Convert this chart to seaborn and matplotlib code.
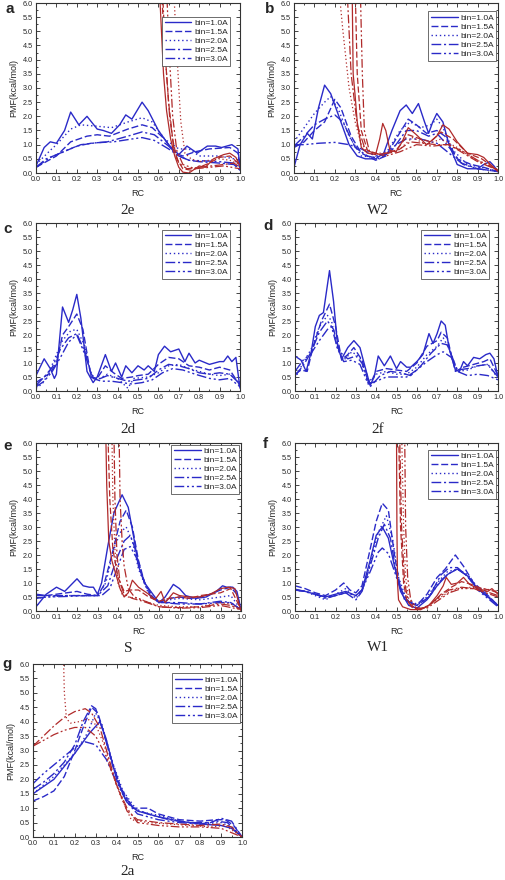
import matplotlib
matplotlib.use("Agg")
import matplotlib.pyplot as plt
from matplotlib.ticker import MultipleLocator
import seaborn as sns

# Labels and styles
BIN_LABELS = ["bin=1.0A", "bin=1.5A", "bin=2.0A", "bin=2.5A", "bin=3.0A"]
CAPTIONS = ["2e", "W2", "2d", "2f", "S", "W1", "2a"]
LETTERS = ["a", "b", "c", "d", "e", "f", "g"]
BLUE = "#2a2ac8"
RED = "#b02a2a"
STYLES = ["-", (0, (5, 2)), (0, (1, 2)), (0, (7, 2, 1.5, 2)), (0, (7, 2, 1.5, 2, 1.5, 2))]

# Panel a (2e)
a_blue = [
    [(0, 0.25), (0.04, 0.9), (0.07, 1.1), (0.1, 1.05), (0.14, 1.5), (0.17, 2.15), (0.21, 1.7), (0.25, 2.0),
     (0.3, 1.55), (0.33, 1.5), (0.37, 1.4), (0.41, 1.7), (0.44, 2.05), (0.47, 1.9), (0.52, 2.5), (0.55, 2.2),
     (0.6, 1.5), (0.65, 1.0), (0.7, 0.65), (0.74, 0.95), (0.79, 0.7), (0.84, 0.95), (0.88, 0.95), (0.91, 0.9),
     (0.96, 1.0), (0.99, 0.85), (1.0, 0.2)],
    [(0, 0.2), (0.1, 0.6), (0.17, 1.1), (0.25, 1.3), (0.3, 1.35), (0.36, 1.3), (0.45, 1.55), (0.52, 1.7),
     (0.57, 1.6), (0.63, 1.2), (0.68, 0.7), (0.72, 0.6), (0.78, 0.75), (0.85, 0.85), (0.95, 0.9), (0.99, 0.7),
     (1.0, 0.15)],
    [(0, 0.3), (0.07, 0.8), (0.1, 1.0), (0.17, 1.55), (0.22, 1.7), (0.3, 1.65), (0.37, 1.6), (0.45, 1.8),
     (0.52, 1.95), (0.57, 1.8), (0.63, 1.2), (0.7, 0.85), (0.75, 0.85), (0.8, 0.6), (0.9, 0.6), (0.97, 0.5),
     (1.0, 0.2)],
    [(0, 0.2), (0.05, 0.5), (0.12, 0.7), (0.2, 0.95), (0.27, 1.05), (0.35, 1.1), (0.45, 1.3), (0.52, 1.45),
     (0.58, 1.35), (0.65, 0.95), (0.7, 0.6), (0.75, 0.45), (0.8, 0.4), (0.9, 0.35), (0.97, 0.3), (1.0, 0.1)],
    [(0, 0.2), (0.07, 0.55), (0.15, 0.8), (0.22, 1.0), (0.3, 1.07), (0.38, 1.1), (0.47, 1.2), (0.52, 1.25),
     (0.58, 1.15), (0.65, 0.85), (0.7, 0.6), (0.75, 0.45), (0.85, 0.42), (0.9, 0.4), (0.97, 0.35), (1.0, 0.1)],
]
a_red = [
    [(0.605, 6.5), (0.615, 5.0), (0.625, 3.5), (0.64, 2.2), (0.66, 1.2), (0.68, 0.6), (0.7, 0.2), (0.72, 0.03),
     (0.75, 0.0), (0.78, 0.15), (0.8, 0.25), (0.83, 0.2), (0.87, 0.5), (0.92, 0.65), (0.95, 0.7), (0.98, 0.55),
     (1.0, 0.25)],
    [(0.615, 6.5), (0.63, 4.5), (0.65, 2.5), (0.67, 1.2), (0.69, 0.5), (0.72, 0.15), (0.76, 0.1), (0.8, 0.2),
     (0.85, 0.35), (0.9, 0.55), (0.95, 0.6), (1.0, 0.3)],
    [(0.675, 6.5), (0.685, 5.0), (0.7, 3.0), (0.71, 1.8), (0.73, 0.7), (0.76, 0.5), (0.8, 0.4), (0.85, 0.45),
     (0.9, 0.5), (0.95, 0.45), (1.0, 0.3)],
    [(0.62, 6.5), (0.635, 4.0), (0.655, 2.0), (0.675, 0.9), (0.7, 0.35), (0.74, 0.15), (0.8, 0.2), (0.86, 0.25),
     (0.92, 0.3), (0.97, 0.35), (1.0, 0.2)],
    [(0.64, 6.5), (0.655, 4.0), (0.67, 2.0), (0.69, 0.8), (0.72, 0.3), (0.78, 0.15), (0.85, 0.2), (0.92, 0.25),
     (1.0, 0.15)],
]

# Panel b (W2)
b_blue = [
    [(0, 0.2), (0.03, 1.0), (0.065, 1.4), (0.09, 1.2), (0.12, 2.3), (0.15, 3.1), (0.18, 2.8), (0.22, 2.0),
     (0.27, 1.0), (0.31, 0.6), (0.35, 0.5), (0.4, 0.5), (0.44, 0.7), (0.48, 1.5), (0.52, 2.2), (0.55, 2.4),
     (0.58, 2.1), (0.61, 2.45), (0.64, 1.8), (0.66, 1.4), (0.68, 1.8), (0.7, 2.1), (0.73, 1.8), (0.76, 1.0),
     (0.8, 0.3), (0.85, 0.15), (0.9, 0.15), (0.93, 0.3), (0.96, 0.4), (0.98, 0.25), (1.0, 0.05)],
    [(0, 0.9), (0.05, 1.1), (0.1, 1.5), (0.15, 1.8), (0.2, 2.6), (0.23, 2.3), (0.28, 1.3), (0.33, 0.7),
     (0.4, 0.45), (0.45, 0.6), (0.5, 1.2), (0.56, 1.9), (0.6, 1.7), (0.65, 1.4), (0.7, 1.5), (0.74, 1.3),
     (0.8, 0.5), (0.87, 0.3), (0.93, 0.2), (1.0, 0.05)],
    [(0, 1.1), (0.05, 1.6), (0.1, 2.1), (0.15, 2.5), (0.18, 2.7), (0.22, 2.2), (0.27, 1.3), (0.33, 0.6),
     (0.4, 0.55), (0.46, 0.8), (0.52, 1.5), (0.57, 1.8), (0.62, 1.6), (0.67, 1.7), (0.7, 1.9), (0.73, 1.6),
     (0.78, 0.8), (0.85, 0.3), (0.92, 0.2), (1.0, 0.05)],
    [(0, 0.95), (0.05, 1.3), (0.1, 1.7), (0.15, 1.9), (0.2, 2.05), (0.24, 1.8), (0.3, 0.9), (0.36, 0.6),
     (0.42, 0.5), (0.48, 0.8), (0.55, 1.5), (0.6, 1.5), (0.66, 1.3), (0.7, 1.4), (0.75, 1.0), (0.82, 0.35),
     (0.9, 0.15), (1.0, 0.05)],
    [(0, 1.0), (0.05, 1.0), (0.12, 1.05), (0.2, 1.08), (0.27, 1.0), (0.33, 0.85), (0.4, 0.6), (0.45, 0.65),
     (0.5, 1.0), (0.55, 1.2), (0.62, 1.2), (0.7, 1.05), (0.76, 0.7), (0.83, 0.3), (0.9, 0.15), (1.0, 0.05)],
]
b_red = [
    [(0.285, 6.5), (0.29, 3.5), (0.3, 2.7), (0.31, 1.8), (0.33, 0.9), (0.36, 0.7), (0.4, 0.65), (0.42, 1.2),
     (0.435, 1.75), (0.45, 1.5), (0.47, 0.8), (0.5, 0.75), (0.53, 1.1), (0.56, 1.6), (0.6, 1.35), (0.65, 1.0),
     (0.7, 1.3), (0.73, 1.7), (0.76, 1.55), (0.8, 1.1), (0.85, 0.7), (0.9, 0.65), (0.93, 0.55), (0.97, 0.25),
     (1.0, 0.05)],
    [(0.3, 6.5), (0.31, 3.5), (0.33, 1.5), (0.36, 0.8), (0.42, 0.65), (0.5, 0.8), (0.56, 1.35), (0.62, 1.2),
     (0.67, 1.1), (0.72, 1.45), (0.78, 1.2), (0.85, 0.7), (0.92, 0.5), (1.0, 0.1)],
    [(0.22, 6.5), (0.24, 5.0), (0.27, 3.0), (0.3, 1.8), (0.33, 1.0), (0.38, 0.7), (0.45, 0.7), (0.52, 0.85),
     (0.58, 1.25), (0.65, 1.0), (0.72, 1.2), (0.8, 0.9), (0.88, 0.5), (0.95, 0.3), (1.0, 0.1)],
    [(0.26, 6.5), (0.28, 3.5), (0.31, 1.7), (0.35, 0.8), (0.42, 0.65), (0.5, 0.75), (0.57, 1.1), (0.63, 1.05),
     (0.7, 1.0), (0.76, 1.0), (0.83, 0.7), (0.9, 0.4), (1.0, 0.1)],
    [(0.325, 6.5), (0.335, 3.5), (0.345, 1.5), (0.37, 0.75), (0.45, 0.6), (0.52, 0.75), (0.6, 1.0),
     (0.68, 0.95), (0.75, 1.0), (0.82, 0.8), (0.9, 0.45), (1.0, 0.1)],
]

# Panel c (2d)
c_blue = [
    [(0, 0.55), (0.04, 1.15), (0.07, 0.8), (0.09, 0.45), (0.1, 0.6), (0.13, 3.0), (0.16, 2.45), (0.18, 2.9),
     (0.2, 3.45), (0.22, 2.6), (0.25, 0.7), (0.28, 0.3), (0.3, 0.5), (0.34, 1.3), (0.37, 0.7), (0.39, 1.0),
     (0.42, 0.5), (0.44, 0.9), (0.47, 0.65), (0.5, 0.9), (0.53, 0.75), (0.55, 0.9), (0.58, 0.7), (0.6, 1.3),
     (0.63, 1.6), (0.66, 1.4), (0.7, 1.5), (0.73, 1.05), (0.75, 1.35), (0.78, 1.0), (0.8, 1.1), (0.85, 0.95),
     (0.9, 1.05), (0.92, 1.05), (0.94, 1.25), (0.96, 1.05), (0.98, 1.2), (1.0, 0.1)],
    [(0, 0.3), (0.04, 0.5), (0.07, 0.65), (0.1, 1.0), (0.13, 2.0), (0.16, 2.3), (0.2, 2.75), (0.23, 2.2),
     (0.27, 0.5), (0.3, 0.45), (0.34, 0.9), (0.38, 0.65), (0.42, 0.45), (0.47, 0.5), (0.5, 0.55), (0.55, 0.6),
     (0.6, 0.95), (0.65, 1.2), (0.7, 1.15), (0.75, 0.9), (0.8, 0.85), (0.85, 0.75), (0.9, 0.85), (0.95, 0.75),
     (1.0, 0.2)],
    [(0, 0.1), (0.03, 0.25), (0.06, 0.6), (0.1, 1.3), (0.13, 1.8), (0.17, 2.15), (0.2, 2.2), (0.24, 1.6),
     (0.27, 0.5), (0.3, 0.4), (0.35, 0.6), (0.4, 0.45), (0.45, 0.1), (0.48, 0.45), (0.55, 0.5), (0.6, 0.65),
     (0.65, 0.9), (0.7, 0.95), (0.75, 0.8), (0.8, 0.7), (0.85, 0.6), (0.9, 0.55), (0.95, 0.6), (1.0, 0.3)],
    [(0, 0.2), (0.04, 0.5), (0.08, 0.85), (0.12, 1.5), (0.16, 1.9), (0.2, 2.05), (0.24, 1.4), (0.27, 0.6),
     (0.3, 0.4), (0.35, 0.55), (0.4, 0.45), (0.45, 0.35), (0.5, 0.4), (0.55, 0.45), (0.6, 0.75), (0.65, 0.95),
     (0.7, 0.9), (0.75, 0.8), (0.8, 0.65), (0.85, 0.6), (0.9, 0.65), (0.95, 0.6), (1.0, 0.25)],
    [(0, 0.15), (0.04, 0.35), (0.08, 0.7), (0.12, 1.2), (0.16, 1.75), (0.2, 2.0), (0.24, 1.3), (0.28, 0.45),
     (0.32, 0.35), (0.37, 0.35), (0.42, 0.3), (0.47, 0.25), (0.52, 0.3), (0.57, 0.4), (0.62, 0.65),
     (0.67, 0.8), (0.72, 0.75), (0.78, 0.6), (0.85, 0.45), (0.9, 0.4), (0.95, 0.45), (1.0, 0.15)],
]

# Panel d (2f)
d_blue = [
    [(0, 1.25), (0.03, 1.1), (0.055, 0.7), (0.08, 1.4), (0.1, 2.3), (0.12, 2.7), (0.14, 2.8), (0.17, 4.3),
     (0.19, 3.2), (0.21, 1.6), (0.23, 1.15), (0.26, 1.55), (0.29, 1.8), (0.32, 1.55), (0.34, 1.0), (0.37, 0.2),
     (0.39, 0.5), (0.41, 1.25), (0.44, 0.9), (0.47, 1.25), (0.5, 0.8), (0.52, 1.05), (0.55, 0.85),
     (0.57, 0.85), (0.6, 1.05), (0.63, 1.3), (0.66, 2.05), (0.68, 1.7), (0.7, 2.05), (0.72, 2.5), (0.74, 2.35),
     (0.76, 1.5), (0.79, 0.75), (0.81, 0.7), (0.83, 1.05), (0.85, 0.9), (0.88, 1.2), (0.91, 1.15), (0.94, 1.3),
     (0.96, 1.35), (0.98, 1.15), (1.0, 0.5)],
    [(0, 0.6), (0.03, 0.75), (0.06, 0.7), (0.09, 1.6), (0.13, 2.5), (0.17, 3.1), (0.2, 2.3), (0.23, 1.1),
     (0.26, 1.3), (0.29, 1.55), (0.33, 1.1), (0.37, 0.25), (0.4, 0.7), (0.45, 0.8), (0.5, 0.75), (0.55, 0.7),
     (0.6, 1.0), (0.65, 1.6), (0.7, 1.8), (0.72, 2.1), (0.75, 1.9), (0.79, 0.7), (0.83, 0.85), (0.88, 0.95),
     (0.93, 1.05), (0.96, 1.15), (1.0, 0.55)],
    [(0, 0.45), (0.04, 1.0), (0.08, 1.5), (0.12, 2.3), (0.16, 2.7), (0.18, 2.5), (0.21, 1.5), (0.24, 1.1),
     (0.28, 1.4), (0.32, 1.2), (0.36, 0.3), (0.4, 0.6), (0.45, 0.7), (0.5, 0.6), (0.55, 0.6), (0.6, 0.85),
     (0.65, 1.3), (0.7, 1.6), (0.73, 1.9), (0.76, 1.5), (0.8, 0.7), (0.85, 0.75), (0.9, 0.9), (0.95, 0.95),
     (1.0, 0.45)],
    [(0, 0.55), (0.04, 0.9), (0.08, 1.4), (0.12, 2.1), (0.16, 2.5), (0.19, 2.2), (0.22, 1.4), (0.26, 1.15),
     (0.3, 1.25), (0.33, 1.0), (0.37, 0.15), (0.42, 0.55), (0.47, 0.7), (0.52, 0.65), (0.57, 0.55), (0.62, 0.9),
     (0.67, 1.35), (0.72, 1.7), (0.75, 1.65), (0.8, 0.75), (0.85, 0.8), (0.9, 0.9), (0.95, 0.95), (1.0, 0.5)],
    [(0, 0.7), (0.04, 1.1), (0.08, 1.35), (0.12, 1.8), (0.16, 2.2), (0.18, 2.3), (0.21, 1.5), (0.24, 1.05),
     (0.28, 1.1), (0.32, 0.95), (0.36, 0.25), (0.4, 0.35), (0.45, 0.5), (0.5, 0.5), (0.55, 0.5), (0.6, 0.75),
     (0.65, 1.05), (0.7, 1.3), (0.73, 1.4), (0.77, 1.2), (0.8, 0.7), (0.85, 0.55), (0.9, 0.6), (0.95, 0.55),
     (1.0, 0.4)],
]

# Panel e (S)
e_blue = [
    [(0, 0.15), (0.05, 0.6), (0.1, 0.85), (0.14, 0.7), (0.2, 1.15), (0.23, 0.9), (0.26, 0.85), (0.28, 0.85),
     (0.3, 0.6), (0.32, 1.0), (0.35, 2.3), (0.38, 3.5), (0.42, 4.15), (0.45, 3.7), (0.48, 2.5), (0.5, 1.6),
     (0.53, 1.0), (0.56, 0.7), (0.6, 0.3), (0.63, 0.5), (0.67, 0.95), (0.7, 0.8), (0.73, 0.55), (0.78, 0.45),
     (0.83, 0.5), (0.88, 0.7), (0.91, 0.9), (0.93, 0.85), (0.96, 0.85), (0.98, 0.7), (1.0, 0.05)],
    [(0, 0.55), (0.05, 0.55), (0.1, 0.6), (0.15, 0.65), (0.2, 0.7), (0.25, 0.6), (0.3, 0.55), (0.33, 0.9),
     (0.37, 2.0), (0.41, 3.2), (0.44, 3.6), (0.47, 3.0), (0.5, 1.8), (0.53, 1.0), (0.57, 0.5), (0.6, 0.3),
     (0.65, 0.45), (0.7, 0.5), (0.75, 0.45), (0.8, 0.5), (0.85, 0.6), (0.9, 0.75), (0.95, 0.85), (0.98, 0.6),
     (1.0, 0.05)],
    [(0, 0.45), (0.05, 0.5), (0.15, 0.55), (0.25, 0.55), (0.3, 0.55), (0.34, 1.0), (0.38, 2.2), (0.41, 2.8),
     (0.44, 3.0), (0.47, 2.5), (0.5, 1.5), (0.55, 0.6), (0.6, 0.3), (0.65, 0.4), (0.7, 0.45), (0.8, 0.4),
     (0.9, 0.5), (0.95, 0.55), (1.0, 0.05)],
    [(0, 0.6), (0.05, 0.55), (0.15, 0.55), (0.25, 0.55), (0.3, 0.55), (0.35, 0.9), (0.39, 1.8), (0.43, 2.5),
     (0.46, 2.7), (0.48, 2.3), (0.52, 1.2), (0.56, 0.5), (0.6, 0.3), (0.65, 0.3), (0.7, 0.3), (0.8, 0.25),
     (0.9, 0.35), (0.95, 0.3), (1.0, 0.05)],
    [(0, 0.45), (0.05, 0.5), (0.15, 0.52), (0.25, 0.55), (0.32, 0.55), (0.36, 0.8), (0.4, 1.6), (0.43, 2.2),
     (0.46, 2.3), (0.49, 1.9), (0.53, 1.0), (0.57, 0.45), (0.62, 0.3), (0.7, 0.25), (0.8, 0.25), (0.9, 0.3),
     (0.95, 0.3), (1.0, 0.05)],
]
e_red = [
    [(0.34, 6.5), (0.345, 4.5), (0.355, 2.5), (0.37, 1.8), (0.39, 1.3), (0.41, 0.8), (0.43, 0.5), (0.45, 0.65),
     (0.47, 1.1), (0.5, 0.85), (0.55, 0.6), (0.58, 0.4), (0.61, 0.7), (0.63, 0.3), (0.67, 0.65), (0.7, 0.55),
     (0.75, 0.5), (0.8, 0.5), (0.85, 0.6), (0.9, 0.8), (0.94, 0.85), (0.97, 0.8), (1.0, 0.0)],
    [(0.35, 6.5), (0.36, 4.0), (0.375, 2.2), (0.4, 1.2), (0.43, 0.7), (0.46, 0.75), (0.5, 0.75), (0.55, 0.5),
     (0.6, 0.35), (0.65, 0.45), (0.7, 0.5), (0.75, 0.45), (0.8, 0.55), (0.85, 0.6), (0.9, 0.65), (0.95, 0.8),
     (1.0, 0.05)],
    [(0.37, 6.5), (0.375, 4.0), (0.385, 2.2), (0.4, 1.0), (0.42, 0.6), (0.45, 0.5), (0.5, 0.45), (0.55, 0.3),
     (0.6, 0.2), (0.7, 0.15), (0.8, 0.15), (0.9, 0.3), (0.95, 0.25), (1.0, 0.05)],
    [(0.38, 6.5), (0.385, 4.0), (0.395, 2.0), (0.41, 1.0), (0.43, 0.6), (0.47, 0.45), (0.52, 0.35), (0.6, 0.15),
     (0.7, 0.12), (0.8, 0.15), (0.9, 0.25), (0.95, 0.2), (1.0, 0.05)],
    [(0.405, 6.5), (0.41, 4.0), (0.42, 2.5), (0.43, 1.6), (0.45, 0.8), (0.48, 0.5), (0.55, 0.3), (0.6, 0.15),
     (0.7, 0.1), (0.8, 0.12), (0.9, 0.2), (1.0, 0.05)],
]

# Panel f (W1)
f_blue = [
    [(0, 0.78), (0.05, 0.7), (0.1, 0.6), (0.15, 0.5), (0.2, 0.6), (0.25, 0.7), (0.3, 0.55), (0.33, 0.75),
     (0.37, 1.8), (0.4, 2.7), (0.43, 3.0), (0.46, 2.6), (0.49, 1.6), (0.52, 0.7), (0.56, 0.2), (0.6, 0.1),
     (0.65, 0.4), (0.7, 0.9), (0.75, 1.3), (0.8, 1.5), (0.85, 1.25), (0.9, 0.8), (0.95, 0.5), (1.0, 0.2)],
    [(0, 0.9), (0.05, 0.8), (0.1, 0.65), (0.15, 0.55), (0.2, 0.75), (0.24, 1.0), (0.27, 0.75), (0.3, 0.65),
     (0.33, 0.9), (0.37, 2.2), (0.4, 3.2), (0.43, 3.85), (0.46, 3.6), (0.49, 2.0), (0.52, 0.8), (0.56, 0.3),
     (0.6, 0.2), (0.65, 0.6), (0.7, 1.2), (0.74, 1.5), (0.79, 2.0), (0.83, 1.6), (0.88, 1.0), (0.93, 0.7),
     (1.0, 0.2)],
    [(0, 0.75), (0.05, 0.7), (0.1, 0.55), (0.15, 0.4), (0.2, 0.6), (0.25, 0.8), (0.3, 0.45), (0.33, 0.7),
     (0.37, 1.7), (0.41, 2.8), (0.45, 3.4), (0.48, 2.6), (0.51, 1.2), (0.55, 0.4), (0.6, 0.25), (0.65, 0.5),
     (0.7, 1.0), (0.75, 1.4), (0.8, 1.5), (0.85, 1.3), (0.9, 0.85), (0.95, 0.55), (1.0, 0.2)],
    [(0, 0.75), (0.05, 0.7), (0.1, 0.6), (0.15, 0.45), (0.2, 0.55), (0.25, 0.65), (0.3, 0.4), (0.33, 0.7),
     (0.37, 1.6), (0.41, 2.6), (0.44, 3.1), (0.47, 2.6), (0.5, 1.3), (0.54, 0.4), (0.6, 0.2), (0.66, 0.5),
     (0.72, 1.3), (0.76, 1.55), (0.8, 1.55), (0.84, 1.3), (0.9, 0.8), (0.95, 0.5), (1.0, 0.2)],
    [(0, 0.75), (0.05, 0.7), (0.1, 0.6), (0.15, 0.5), (0.2, 0.55), (0.25, 0.65), (0.3, 0.55), (0.33, 0.75),
     (0.37, 1.4), (0.41, 2.1), (0.43, 2.25), (0.46, 2.05), (0.5, 1.2), (0.54, 0.4), (0.6, 0.2), (0.66, 0.5),
     (0.72, 1.1), (0.77, 1.4), (0.8, 1.5), (0.85, 1.25), (0.9, 0.75), (0.95, 0.45), (1.0, 0.15)],
]
f_red = [
    [(0.5, 6.5), (0.502, 3.0), (0.505, 1.0), (0.51, 0.4), (0.53, 0.15), (0.57, 0.05), (0.62, 0.05), (0.66, 0.2),
     (0.7, 0.55), (0.73, 0.9), (0.745, 1.2), (0.77, 0.95), (0.8, 1.0), (0.83, 1.2), (0.86, 0.95), (0.9, 0.8),
     (0.95, 0.7), (0.97, 0.8), (1.0, 0.6)],
    [(0.51, 6.5), (0.52, 3.0), (0.535, 1.0), (0.55, 0.4), (0.58, 0.1), (0.62, 0.05), (0.67, 0.25), (0.72, 0.6),
     (0.77, 0.85), (0.82, 1.05), (0.87, 0.95), (0.92, 0.8), (0.96, 0.75), (1.0, 0.65)],
    [(0.525, 6.5), (0.535, 3.0), (0.545, 1.2), (0.56, 0.45), (0.59, 0.15), (0.63, 0.1), (0.68, 0.3),
     (0.74, 0.6), (0.8, 0.8), (0.87, 0.85), (0.93, 0.8), (1.0, 0.7)],
    [(0.515, 6.5), (0.525, 3.0), (0.54, 1.0), (0.56, 0.3), (0.6, 0.05), (0.65, 0.15), (0.7, 0.45), (0.76, 0.75),
     (0.82, 0.85), (0.88, 0.8), (0.94, 0.65), (1.0, 0.5)],
    [(0.54, 6.5), (0.545, 3.0), (0.555, 1.2), (0.57, 0.4), (0.6, 0.1), (0.65, 0.1), (0.7, 0.35), (0.76, 0.65),
     (0.82, 0.8), (0.88, 0.8), (0.94, 0.7), (1.0, 0.55)],
]

# Panel g (2a)
g_blue = [
    [(0, 1.5), (0.1, 2.0), (0.2, 2.9), (0.27, 3.6), (0.32, 4.0), (0.35, 3.4), (0.4, 2.0), (0.45, 1.2),
     (0.5, 0.9), (0.6, 0.7), (0.7, 0.55), (0.8, 0.45), (0.9, 0.4), (0.95, 0.3), (1.0, 0.0)],
    [(0, 1.25), (0.05, 1.4), (0.1, 1.6), (0.15, 2.1), (0.2, 3.0), (0.24, 3.8), (0.28, 4.5), (0.31, 4.3),
     (0.34, 3.6), (0.38, 2.5), (0.43, 1.5), (0.48, 1.0), (0.55, 1.0), (0.6, 0.8), (0.7, 0.6), (0.8, 0.55),
     (0.88, 0.6), (0.92, 0.6), (0.96, 0.4), (1.0, 0.0)],
    [(0, 1.5), (0.1, 2.1), (0.2, 2.9), (0.26, 3.6), (0.3, 4.3), (0.33, 3.9), (0.38, 2.6), (0.43, 1.6),
     (0.5, 0.9), (0.6, 0.75), (0.7, 0.55), (0.8, 0.45), (0.9, 0.5), (0.95, 0.35), (1.0, 0.0)],
    [(0, 1.65), (0.05, 1.9), (0.1, 2.2), (0.15, 2.6), (0.2, 3.2), (0.24, 4.0), (0.28, 4.55), (0.3, 4.45),
     (0.33, 3.8), (0.37, 2.8), (0.42, 1.7), (0.48, 1.0), (0.55, 0.8), (0.65, 0.6), (0.75, 0.5), (0.85, 0.5),
     (0.9, 0.65), (0.95, 0.55), (1.0, 0.0)],
    [(0, 1.85), (0.05, 2.2), (0.1, 2.5), (0.15, 2.8), (0.2, 3.1), (0.25, 3.3), (0.3, 3.2), (0.35, 2.7),
     (0.4, 1.9), (0.45, 1.2), (0.5, 0.8), (0.6, 0.6), (0.7, 0.5), (0.8, 0.45), (0.88, 0.55), (0.93, 0.5),
     (1.0, 0.0)],
]
g_red = [
    None,
    None,
    [(0.145, 6.5), (0.15, 5.0), (0.16, 4.1), (0.18, 3.95), (0.22, 4.0), (0.26, 4.1), (0.3, 3.9), (0.34, 3.2),
     (0.38, 2.2), (0.42, 1.4), (0.47, 0.6), (0.55, 0.5), (0.65, 0.45), (0.75, 0.4), (0.85, 0.35), (0.92, 0.4),
     (1.0, 0.0)],
    [(0, 3.15), (0.05, 3.5), (0.1, 3.85), (0.15, 4.15), (0.2, 4.35), (0.25, 4.45), (0.28, 4.3), (0.32, 3.8),
     (0.36, 2.8), (0.4, 1.8), (0.45, 0.9), (0.5, 0.6), (0.6, 0.5), (0.7, 0.45), (0.8, 0.4), (0.9, 0.45),
     (0.95, 0.35), (1.0, 0.0)],
    [(0, 3.15), (0.05, 3.35), (0.1, 3.55), (0.15, 3.7), (0.2, 3.8), (0.25, 3.8), (0.3, 3.5), (0.35, 2.8),
     (0.4, 1.8), (0.45, 1.0), (0.5, 0.5), (0.6, 0.4), (0.7, 0.35), (0.8, 0.35), (0.9, 0.3), (1.0, 0.0)],
]

# Layout in figure pixels: left, top, right, bottom of each axes
W, H = 505, 880
BOXES = [(36, 3, 240, 173), (294, 3, 498, 173),
         (36, 223, 240, 391), (295, 223, 498, 391),
         (36, 443, 241, 611), (295, 443, 498, 611),
         (33, 664, 242, 837)]
LEGEND_ANCHORS = [(0.96, 0.93), (1.0, 0.96), (0.96, 0.97), (0.965, 0.97),
                  (1.0, 1.0), (1.0, 0.97), (1.0, 0.955)]
LETTER_POS = [(5, 13), (265, 13), (3, 233), (263, 230), (3, 450), (263, 448), (2, 668)]
CAPTION_POS = [(128, 210), (378, 210), (128, 429), (378, 429), (128, 648), (378, 647), (128, 871)]

blues = [a_blue, b_blue, c_blue, d_blue, e_blue, f_blue, g_blue]
reds = [a_red, b_red, None, None, e_red, f_red, g_red]

sns.set_style("ticks")
plt.rcParams["font.family"] = ["Liberation Sans", "DejaVu Sans"]

fig = plt.figure(figsize=(W / 100, H / 100), dpi=100)

for i, (l, t, r, b) in enumerate(BOXES):
    ax = fig.add_axes([l / W, 1 - b / H, (r - l) / W, (b - t) / H])
    for k, curve in enumerate(blues[i]):
        xs = [p[0] for p in curve]
        ys = [p[1] for p in curve]
        sns.lineplot(x=xs, y=ys, ax=ax, color=BLUE, linestyle=STYLES[k], linewidth=1.0,
                     sort=False, estimator=None, label=BIN_LABELS[k])
    if reds[i] is not None:
        for k, curve in enumerate(reds[i]):
            if curve is None:
                continue
            xs = [p[0] for p in curve]
            ys = [p[1] for p in curve]
            sns.lineplot(x=xs, y=ys, ax=ax, color=RED, linestyle=STYLES[k], linewidth=0.9,
                         sort=False, estimator=None)
    ax.set_xlim(0, 1)
    ax.set_ylim(0, 6)
    ax.xaxis.set_major_locator(MultipleLocator(0.1))
    ax.xaxis.set_minor_locator(MultipleLocator(0.05))
    ax.yaxis.set_major_locator(MultipleLocator(0.5))
    ax.yaxis.set_minor_locator(MultipleLocator(0.25))
    ax.xaxis.set_major_formatter(lambda v, pos: f"{v:.1f}")
    ax.yaxis.set_major_formatter(lambda v, pos: f"{v:.1f}")
    ax.tick_params(which="both", direction="in", top=True, right=True, width=0.6,
                   labelsize=5.2, pad=2.5)
    ax.tick_params(which="major", length=3)
    ax.tick_params(which="minor", length=1.5)
    for sp in ax.spines.values():
        sp.set_linewidth(0.8)
        sp.set_color("#333333")
    ax.set_xlabel("RC", fontsize=6.5, labelpad=4)
    ax.set_ylabel("PMF(kcal/mol)", fontsize=6.5, labelpad=3)
    ax.legend(loc="upper right", bbox_to_anchor=LEGEND_ANCHORS[i], fontsize=6,
              frameon=True, fancybox=False, framealpha=1, edgecolor="#555555",
              handlelength=3.2, handletextpad=0.3, labelspacing=0.15,
              borderpad=0.3, borderaxespad=0.2)
    ax.get_legend().get_frame().set_linewidth(0.6)

    lx, ly = LETTER_POS[i]
    fig.text(lx / W, 1 - ly / H, LETTERS[i], fontsize=11, fontweight="bold", ha="left", va="baseline")
    cx, cy = CAPTION_POS[i]
    fig.text(cx / W, 1 - cy / H, CAPTIONS[i], fontsize=11, family="Liberation Serif",
             ha="center", va="center")

fig.savefig("out.png", dpi=100)
